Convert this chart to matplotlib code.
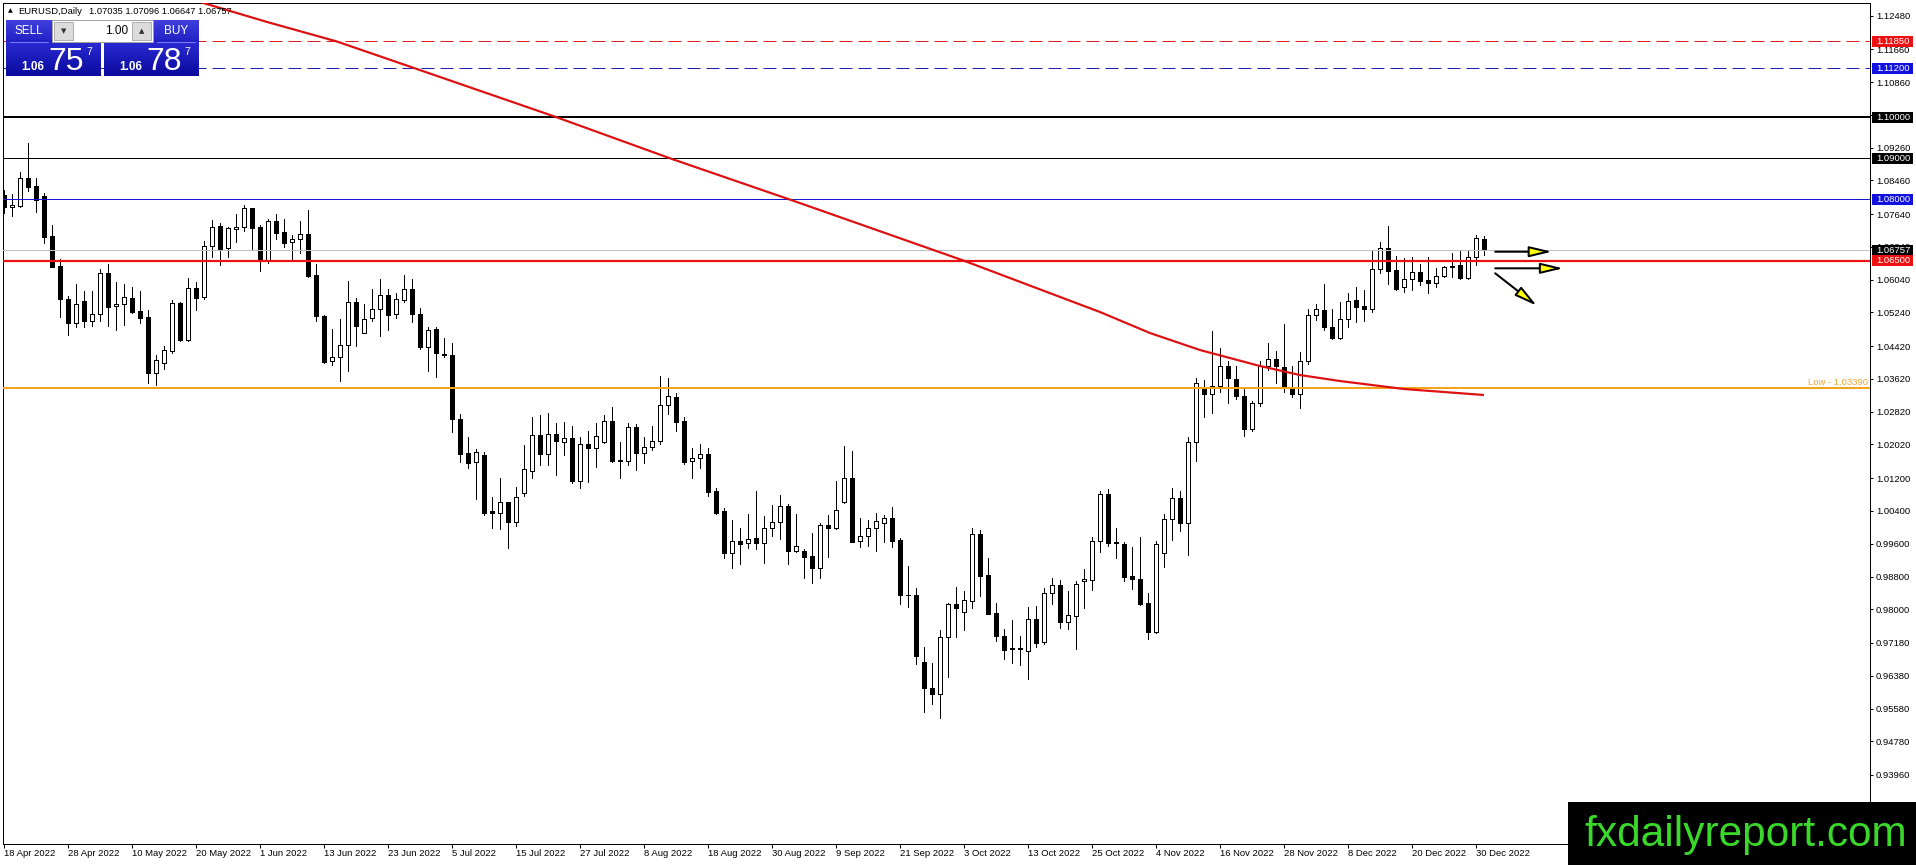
import matplotlib
matplotlib.use("Agg")
import matplotlib.pyplot as plt
import matplotlib.transforms as mtransforms
from matplotlib.patches import Rectangle, FancyArrowPatch
from matplotlib.colors import LinearSegmentedColormap
import numpy as np

plt.rcParams['font.family'] = ['Liberation Sans', 'DejaVu Sans']
plt.rcParams['lines.scale_dashes'] = False

# ---------------- data ----------------
symbol = "EURUSD,Daily"
header_ohlc = "1.07035 1.07096 1.06647 1.06757"

date_labels = ['18 Apr 2022', '28 Apr 2022', '10 May 2022', '20 May 2022', '1 Jun 2022',
               '13 Jun 2022', '23 Jun 2022', '5 Jul 2022', '15 Jul 2022', '27 Jul 2022',
               '8 Aug 2022', '18 Aug 2022', '30 Aug 2022', '9 Sep 2022', '21 Sep 2022',
               '3 Oct 2022', '13 Oct 2022', '25 Oct 2022', '4 Nov 2022', '16 Nov 2022',
               '28 Nov 2022', '8 Dec 2022', '20 Dec 2022', '30 Dec 2022']

opens = [1.08105, 1.07804, 1.07836, 1.08511, 1.08324, 1.08080, 1.07105, 1.06373, 1.05568, 1.04975,
         1.05519, 1.05040, 1.05194, 1.06194, 1.05398, 1.05438, 1.05584, 1.05276, 1.05121, 1.03771,
         1.04015, 1.04308, 1.05471, 1.04568, 1.05836, 1.05625, 1.06869, 1.07349, 1.06804, 1.07284,
         1.07332, 1.07780, 1.07316, 1.06503, 1.07471, 1.07194, 1.06950, 1.07024, 1.07154, 1.06154,
         1.05154, 1.04048, 1.04146, 1.04438, 1.05487, 1.04731, 1.05097, 1.05316, 1.05658, 1.05194,
         1.05544, 1.05804, 1.05194, 1.04389, 1.04837, 1.04227, 1.04202, 1.02642, 1.01804, 1.01601,
         1.01763, 1.00398, 1.00341, 1.00609, 1.00137, 1.00829, 1.01381, 1.02243, 1.01780, 1.02268,
         1.02089, 1.02170, 1.01137, 1.02024, 1.01942, 1.02089, 1.02585, 1.01650, 1.01625, 1.02438,
         1.01804, 1.01950, 1.02097, 1.02975, 1.03170, 1.02593, 1.01609, 1.01682, 1.01788, 1.00885,
         1.00398, 0.99381, 0.99666, 0.99625, 0.99731, 0.99625, 0.99975, 1.00121, 1.00520, 0.99430,
         0.99422, 0.99300, 0.99016, 1.00056, 0.99975, 1.00625, 1.01194, 0.99658, 0.99788, 0.99975,
         1.00105, 1.00219, 0.99690, 0.98357, 0.98349, 0.96707, 0.96072, 0.95926, 0.97333, 0.98129,
         0.97942, 0.98211, 0.99829, 0.98837, 0.97910, 0.97349, 0.97056, 0.97024, 0.96991, 0.97763,
         0.97211, 0.98390, 0.98593, 0.97698, 0.97845, 0.98698, 0.98723, 0.99658, 1.00812, 0.99642,
         0.99593, 0.98812, 0.98731, 0.98146, 0.97455, 0.99381, 1.00194, 1.00707, 1.00097, 1.02072,
         1.03365, 1.03243, 1.03454, 1.03926, 1.03617, 1.03202, 1.02389, 1.03024, 1.03934, 1.04097,
         1.03902, 1.03365, 1.03259, 1.04056, 1.05178, 1.05300, 1.04877, 1.04625, 1.05072, 1.05544,
         1.05398, 1.05316, 1.06292, 1.06804, 1.06276, 1.05853, 1.06048, 1.06219, 1.06032, 1.05950,
         1.06129, 1.06341, 1.06389, 1.06089, 1.06585, 1.07035]
highs = [1.08227, 1.08121, 1.08674, 1.09381, 1.08511, 1.08162, 1.07373, 1.06544, 1.05649, 1.05934,
         1.05771, 1.05763, 1.06300, 1.06422, 1.05975, 1.05934, 1.05869, 1.05763, 1.05300, 1.04202,
         1.04430, 1.05544, 1.05503, 1.06089, 1.05991, 1.06983, 1.07495, 1.07414, 1.07316, 1.07641,
         1.07861, 1.07796, 1.07373, 1.07511, 1.07641, 1.07520, 1.07129, 1.07471, 1.07739, 1.06422,
         1.05178, 1.04837, 1.05081, 1.06015, 1.05593, 1.05446, 1.05804, 1.06056, 1.05812, 1.05707,
         1.06146, 1.06056, 1.05341, 1.04877, 1.04877, 1.04609, 1.04487, 1.02763, 1.02211, 1.01902,
         1.01829, 1.00731, 1.01194, 1.00625, 1.00975, 1.02007, 1.02698, 1.02739, 1.02780, 1.02536,
         1.02560, 1.02479, 1.02211, 1.02349, 1.02536, 1.02731, 1.02926, 1.02072, 1.02536, 1.02511,
         1.02194, 1.02471, 1.03690, 1.03633, 1.03268, 1.02682, 1.01926, 1.02032, 1.01926, 1.00950,
         1.00463, 1.00178, 0.99975, 1.00324, 1.00894, 1.00276, 1.00544, 1.00788, 1.00560, 1.00324,
         0.99463, 0.99853, 1.00113, 1.00300, 1.01137, 1.01983, 1.01861, 1.00227, 1.00178, 1.00341,
         1.00300, 1.00487, 0.99747, 0.99064, 0.98511, 0.97089, 0.96682, 0.97495, 0.98146, 0.98552,
         0.98446, 0.99975, 0.99934, 0.99251, 0.98146, 0.97511, 0.97739, 0.97349, 0.98064, 0.98089,
         0.98511, 0.98772, 0.98715, 0.98446, 0.98690, 0.98983, 0.99772, 1.00885, 1.00934, 0.99991,
         0.99650, 0.99528, 0.99772, 0.98390, 0.99666, 1.00324, 1.00950, 1.00885, 1.02211, 1.03633,
         1.03593, 1.04788, 1.04365, 1.04056, 1.03942, 1.03389, 1.03089, 1.04056, 1.04487, 1.04308,
         1.04959, 1.03934, 1.04284, 1.05316, 1.05446, 1.05934, 1.05324, 1.05487, 1.05707, 1.05869,
         1.05788, 1.06739, 1.06950, 1.07349, 1.06617, 1.06560, 1.06585, 1.06414, 1.06585, 1.06316,
         1.06373, 1.06698, 1.06739, 1.06739, 1.07129, 1.07096]
lows = [1.07674, 1.07601, 1.07820, 1.08210, 1.07698, 1.06942, 1.06341, 1.05137, 1.04698, 1.04893,
        1.04893, 1.04918, 1.05040, 1.04918, 1.04812, 1.04934, 1.05219, 1.04991, 1.03528, 1.03471,
        1.03861, 1.04259, 1.04552, 1.04552, 1.05300, 1.05568, 1.06601, 1.06398, 1.06601, 1.06967,
        1.07235, 1.06763, 1.06259, 1.06438, 1.07024, 1.06828, 1.06520, 1.06698, 1.06097, 1.05040,
        1.03999, 1.03967, 1.03576, 1.03820, 1.04430, 1.04731, 1.05040, 1.04674, 1.04820, 1.05097,
        1.05487, 1.05015, 1.04341, 1.03820, 1.03658, 1.04162, 1.02333, 1.01601, 1.01438, 1.00690,
        1.00300, 0.99991, 0.99959, 0.99503, 1.00040, 1.00772, 1.01194, 1.01520, 1.01520, 1.01276,
        1.01763, 1.01072, 1.00950, 1.01113, 1.01463, 1.02048, 1.01601, 1.01211, 1.01520, 1.01398,
        1.01576, 1.01885, 1.02032, 1.02755, 1.02357, 1.01536, 1.01211, 1.01438, 1.00772, 1.00316,
        0.99243, 0.98999, 0.99097, 0.99487, 0.99463, 0.99121, 0.99788, 0.99707, 0.99097, 0.99406,
        0.98772, 0.98633, 0.98755, 0.99284, 0.99950, 1.00585, 0.99633, 0.99528, 0.99544, 0.99430,
        0.99650, 0.99528, 0.98121, 0.98064, 0.96658, 0.95503, 0.95682, 0.95341, 0.96341, 0.97333,
        0.97495, 0.98040, 0.98333, 0.97877, 0.97235, 0.96788, 0.96698, 0.96642, 0.96292, 0.97072,
        0.97154, 0.98121, 0.97552, 0.97520, 0.97032, 0.98040, 0.98471, 0.99406, 0.99552, 0.99259,
        0.98698, 0.98495, 0.98105, 0.97276, 0.97414, 0.99040, 0.99690, 0.99918, 0.99324, 1.01625,
        1.02698, 1.02796, 1.03292, 1.03040, 1.03121, 1.02227, 1.02357, 1.02959, 1.03837, 1.03528,
        1.03292, 1.03186, 1.02902, 1.03983, 1.05056, 1.04812, 1.04585, 1.04585, 1.04877, 1.05015,
        1.05040, 1.05259, 1.06194, 1.05934, 1.05788, 1.05747, 1.05788, 1.05910, 1.05723, 1.05853,
        1.06113, 1.06113, 1.06056, 1.06056, 1.06398, 1.06647]
closes = [1.07804, 1.07853, 1.08511, 1.08292, 1.07983, 1.07089, 1.06357, 1.05560, 1.04975, 1.05446,
          1.05040, 1.05202, 1.06194, 1.05381, 1.05446, 1.05609, 1.05259, 1.05113, 1.03771, 1.04080,
          1.04324, 1.05463, 1.04568, 1.05828, 1.05601, 1.06869, 1.07332, 1.06780, 1.07292, 1.07332,
          1.07780, 1.07308, 1.06503, 1.07479, 1.07170, 1.06942, 1.07024, 1.07146, 1.06137, 1.05162,
          1.04024, 1.04146, 1.04438, 1.05487, 1.04918, 1.05081, 1.05324, 1.05658, 1.05186, 1.05560,
          1.05804, 1.05194, 1.04389, 1.04812, 1.04243, 1.04211, 1.02633, 1.01788, 1.01576, 1.01845,
          1.00357, 1.00341, 1.00609, 1.00137, 1.00747, 1.01414, 1.02243, 1.01780, 1.02268, 1.02113,
          1.02170, 1.01137, 1.02024, 1.01942, 1.02227, 1.02585, 1.01617, 1.01625, 1.02438, 1.01820,
          1.01950, 1.02097, 1.02975, 1.03194, 1.02576, 1.01601, 1.01682, 1.01780, 1.00869, 1.00357,
          0.99381, 0.99658, 0.99601, 0.99707, 0.99625, 0.99975, 1.00121, 1.00511, 0.99430, 0.99536,
          0.99284, 0.99016, 1.00048, 0.99975, 1.00422, 1.01194, 0.99650, 0.99788, 0.99983, 1.00146,
          1.00219, 0.99674, 0.98357, 0.98341, 0.96869, 0.96072, 0.95926, 0.97333, 0.98121, 0.98024,
          0.98219, 0.99829, 0.98820, 0.97885, 0.97357, 0.97007, 0.97024, 0.97056, 0.97763, 0.97186,
          0.98390, 0.98593, 0.97698, 0.97861, 0.98609, 0.98731, 0.99658, 1.00812, 0.99625, 0.99625,
          0.98796, 0.98731, 0.98129, 0.97455, 0.99585, 1.00194, 1.00707, 1.00097, 1.02072, 1.03511,
          1.03243, 1.03454, 1.03926, 1.03633, 1.03211, 1.02389, 1.03024, 1.03934, 1.04097, 1.03942,
          1.03414, 1.03259, 1.04056, 1.05178, 1.05316, 1.04877, 1.04625, 1.05072, 1.05520, 1.05381,
          1.05333, 1.06292, 1.06804, 1.06259, 1.05812, 1.06048, 1.06219, 1.06015, 1.05950, 1.06129,
          1.06341, 1.06373, 1.06089, 1.06585, 1.07048, 1.06757]

# moving average (read at points along the curve, bar index / value)
ma_bars = [24.5, 32.9, 41.6, 49.5, 69.0, 83.5, 98.75, 120.1, 137.0, 143.25, 149.5,
           157.0, 162.0, 167.0, 175.0, 185.0]
ma_values = [1.12812, 1.12324, 1.11850, 1.11320, 1.10007, 1.08983, 1.07959, 1.06495,
             1.05251, 1.04739, 1.04324, 1.03934, 1.03714, 1.03568, 1.03373, 1.03227]

ytick_values = [1.12480, 1.11660, 1.10860, 1.10060, 1.09260, 1.08460, 1.07640, 1.06840, 1.06040,
                1.05240, 1.04420, 1.03620, 1.02820, 1.02020, 1.01200, 1.00400, 0.99600, 0.98800,
                0.98000, 0.97180, 0.96380, 0.95580, 0.94780, 0.93960]

level_values = [1.11850, 1.11200, 1.10000, 1.09000, 1.08000, 1.06757, 1.06500]
low_level = 1.03390
low_label = "Low - 1.03390"

# arrows: (bar start, price start, bar end, price end)
arrow_x0 = [186.4, 186.4, 186.4]
arrow_y0 = [1.06722, 1.06317, 1.06195]
arrow_x1 = [193.5, 194.9, 191.6]
arrow_y1 = [1.06722, 1.06317, 1.05405]

sell_price = ("1.06", "75", "7")
buy_price = ("1.06", "78", "7")
lot = "1.00"
watermark = "fxdailyreport.com"

# ---------------- figure ----------------
W, H = 1916, 865
PX = 0.72  # points per pixel at dpi=100
fig = plt.figure(figsize=(W / 100, H / 100), dpi=100, facecolor='white')
L, R, T, B = 3, 1870, 3, 844
ax = fig.add_axes([L / W, 1 - B / H, (R - L) / W, (B - T) / H])
ax.set_facecolor('white')
ax.set_xlim(-0.125, 233.25)
ax.set_ylim(0.92276, 1.12788)

o = np.array(opens); h = np.array(highs); l = np.array(lows); c = np.array(closes)
x = np.arange(len(o))
bull = c >= o
ax.vlines(x, l, h, colors='black', linewidth=1 * PX, zorder=2, antialiased=False)
body_lo = np.minimum(o, c)
body_h = np.maximum(np.abs(c - o), 0.00001)
ax.bar(x, body_h, bottom=body_lo, width=0.58,
       color=np.where(bull, 'white', 'black'), edgecolor='black',
       linewidth=1 * PX, zorder=3, antialiased=False)

# horizontal levels
lvl_style = [
    dict(color='#dd2020', lw=1 * PX, ls=(0, (13 * PX, 6 * PX))),
    dict(color='#2020b0', lw=1 * PX, ls=(0, (13 * PX, 6 * PX))),
    dict(color='black', lw=2 * PX, ls='-'),
    dict(color='black', lw=1 * PX, ls='-'),
    dict(color='#1818d0', lw=1 * PX, ls='-'),
    dict(color='#c0c0c0', lw=1 * PX, ls='-'),
    dict(color='#ee1111', lw=2.2 * PX, ls='-'),
]
lvl_box = ['#ee1111', '#1010e0', 'black', 'black', '#1010e0', 'black', '#ee1111']
for v, st in zip(level_values, lvl_style):
    ax.axhline(v, color=st['color'], lw=st['lw'], linestyle=st['ls'], zorder=4)
ax.axhline(low_level, color='#f5a418', lw=2 * PX, zorder=4)

# moving average
ax.plot(ma_bars, ma_values, color='#dd1111', lw=2.2 * PX, zorder=5, solid_capstyle='butt')

# arrows
for x0, y0, x1, y1 in zip(arrow_x0, arrow_y0, arrow_x1, arrow_y1):
    ax.add_patch(FancyArrowPatch((x0, y0), (x1, y1),
                                 arrowstyle=f'-|>,head_length={19 * PX},head_width={4.5 * PX}',
                                 mutation_scale=1, fc='#ffff00', ec='black', lw=2 * PX,
                                 shrinkA=0, shrinkB=0, zorder=6))

# low label
low_tr = mtransforms.offset_copy(ax.get_yaxis_transform(), fig=fig, x=-2, y=6, units='dots')
ax.text(1.0, low_level, low_label, transform=low_tr, ha='right', va='center',
        fontsize=6.8, color='#f0a830', zorder=7)

# axes styling
for s in ax.spines.values():
    s.set_linewidth(1 * PX)
    s.set_color('black')
ax.yaxis.tick_right()
ax.set_yticks(ytick_values)
ax.set_yticklabels([f'{v:.5f}' for v in ytick_values])
ax.set_xticks(np.arange(0, len(date_labels) * 8, 8))
ax.set_xticklabels(date_labels)
for t in ax.get_xticklabels():
    t.set_ha('left')
ax.tick_params(axis='y', direction='out', length=3 * PX, width=1 * PX, pad=3 * PX,
               labelsize=6.8, colors='black')
ax.tick_params(axis='x', direction='out', length=4 * PX, width=1 * PX, pad=1 * PX,
               labelsize=6.8, colors='black')

# ---------------- overlay (pixel coordinates) ----------------
ov = fig.add_axes([0, 0, 1, 1], zorder=5)
ov.axis('off')

def grad_box(x0, y0, x1, y1, c_top, c_bot):
    cmap = LinearSegmentedColormap.from_list('g', [c_top, c_bot])
    g = np.linspace(0, 1, 64).reshape(-1, 1)
    ov.imshow(g, cmap=cmap, extent=(x0, x1, y1, y0), origin='upper',
              aspect='auto', interpolation='bilinear', zorder=1)

# value labels on the price axis
fig.canvas.draw()
for v, fc in zip(level_values, lvl_box):
    py = H - ax.transData.transform((0, v))[1]
    ov.add_patch(Rectangle((1872, py - 5.5), 41, 11, fc=fc, ec='none', zorder=3))
    ov.text(1876, py, f'{v:.5f}', ha='left', va='center', fontsize=6.8, color='white', zorder=4)

# trading panel
grad_box(6, 20, 52, 42, '#4040e0', '#2020c4')
grad_box(153, 20, 199, 42, '#4040e0', '#2020c4')
grad_box(6, 42, 101, 76, '#2a2ad4', '#0a0a9c')
grad_box(104, 42, 199, 76, '#2a2ad4', '#0a0a9c')
ov.plot([10, 48], [42, 42], color='#9090ff', lw=0.8 * PX, zorder=3)
ov.plot([157, 195], [42, 42], color='#9090ff', lw=0.8 * PX, zorder=3)
ov.add_patch(Rectangle((52, 20), 101, 22, fc='white', ec='#a0a0a0', lw=1 * PX, zorder=2))
ov.add_patch(Rectangle((54, 22), 19, 18, fc='#dcdcdc', ec='#b0b0b0', lw=1 * PX, zorder=3))
ov.add_patch(Rectangle((132, 22), 19, 18, fc='#dcdcdc', ec='#b0b0b0', lw=1 * PX, zorder=3))
ov.text(63.5, 31, '▼', ha='center', va='center', fontsize=5, color='#303030', zorder=4,
        family=['DejaVu Sans'])
ov.text(141.5, 31, '▲', ha='center', va='center', fontsize=5, color='#303030', zorder=4,
        family=['DejaVu Sans'])
ov.text(128, 31, lot, ha='right', va='center', fontsize=8.5, color='black', zorder=4)
ov.text(29, 31, 'SELL', ha='center', va='center', fontsize=8.5, color='white', zorder=4)
ov.text(176, 31, 'BUY', ha='center', va='center', fontsize=8.5, color='white', zorder=4)
for (small, big, sup), x0 in ((sell_price, 6), (buy_price, 104)):
    ov.text(x0 + 15, 70, small, ha='left', va='baseline', fontsize=8.5, fontweight='bold',
            color='white', zorder=4)
    ov.text(x0 + 42, 70, big, ha='left', va='baseline', fontsize=23, color='white', zorder=4)
    ov.text(x0 + 80, 55, sup, ha='left', va='baseline', fontsize=7.5, color='white', zorder=4)

# header
ov.text(10, 11, '▲', ha='center', va='center', fontsize=4.5, color='black',
        family=['DejaVu Sans'])
ov.text(18, 11, symbol, ha='left', va='center', fontsize=6.8, color='black')
ov.text(89, 11, header_ohlc, ha='left', va='center', fontsize=6.7, color='black')

# watermark
ov.add_patch(Rectangle((1568, 802), 348, 63, fc='black', ec='none', zorder=2))
ov.text(1746, 846, watermark, ha='center', va='baseline', fontsize=30.5, color='#3ad82a', zorder=3)

ov.set_xlim(0, W)
ov.set_ylim(H, 0)

fig.savefig('out.png', dpi=100, facecolor='white')
